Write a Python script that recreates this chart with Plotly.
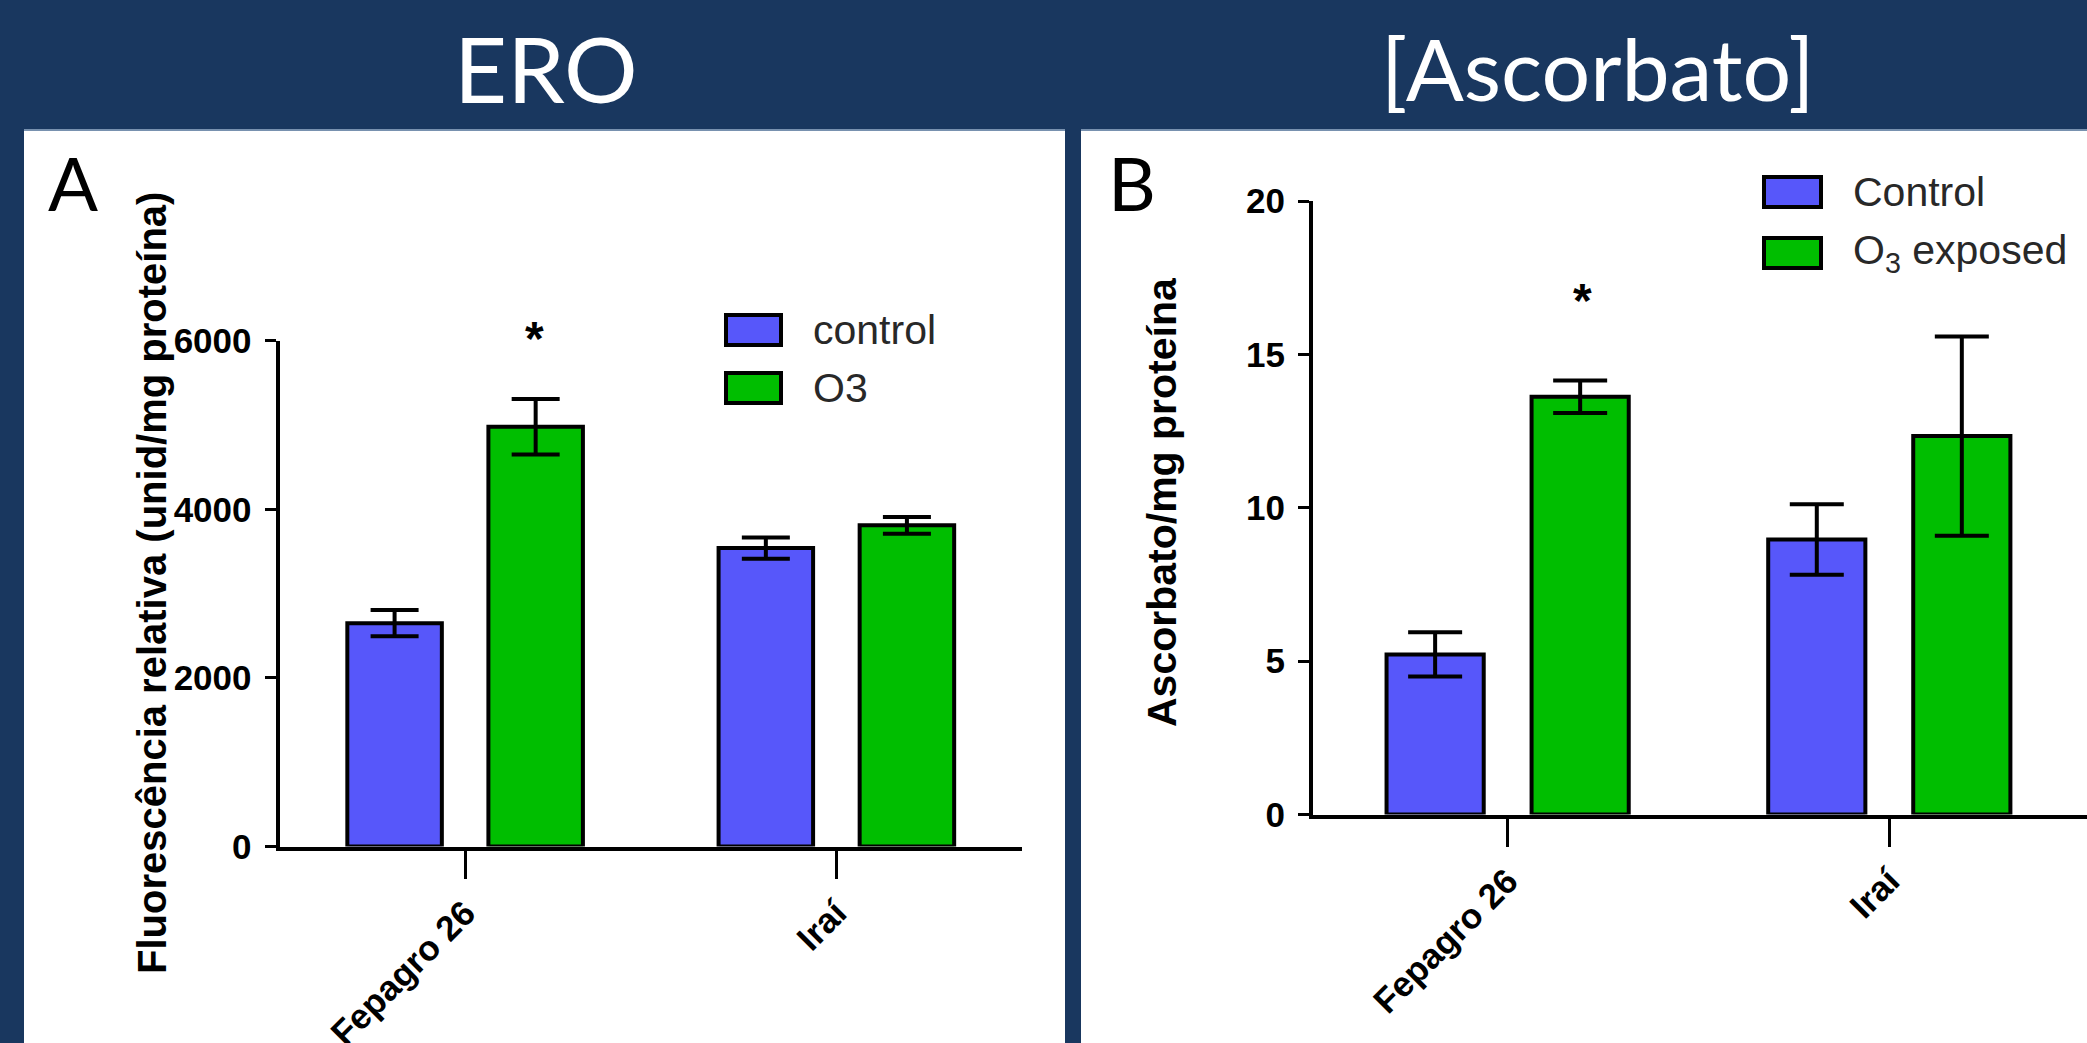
import plotly.graph_objects as go

# ---------------- data ----------------
categories = ["Fepagro 26", "Iraí"]

ero_series = ["control", "O3"]
ero_control = [2650, 3540]
ero_control_err = [155, 125]
ero_o3 = [4980, 3810]
ero_o3_err = [330, 100]
ero_sig = ["*", ""]
ero_yticks = [0, 2000, 4000, 6000]

asc_series = ["Control", "O<sub>3</sub> exposed"]
asc_control = [5.22, 8.97]
asc_control_err = [0.72, 1.15]
asc_o3 = [13.62, 12.34]
asc_o3_err = [0.53, 3.25]
asc_sig = ["*", ""]
asc_yticks = [0, 5, 10, 15, 20]

panel_titles = ["ERO", "[Ascorbato]"]
panel_letters = ["A", "B"]
ytitles = ["Fluorescência relativa (unid/mg proteína)", "Ascorbato/mg proteína"]

# ---------------- style ----------------
W, H = 2087, 1043
NAVY = "rgb(25,55,95)"
BLUE = "rgb(87,87,250)"
GREEN = "rgb(0,190,0)"
ARIAL = "Liberation Sans, Arial, sans-serif"
CALIBRI = "Lato, Carlito, sans-serif"


def px_x(v):
    return v / W


def px_y(v):
    return 1 - v / H


fig = go.Figure()

# left chart (ERO)
for name, vals, errs, col in [
    (ero_series[0], ero_control, ero_control_err, BLUE),
    (ero_series[1], ero_o3, ero_o3_err, GREEN),
]:
    fig.add_trace(go.Bar(
        x=categories, y=vals, name=name, xaxis="x", yaxis="y",
        marker=dict(color=col, line=dict(color="black", width=4)),
        error_y=dict(type="data", array=errs, visible=True,
                     color="black", thickness=4, width=24),
        showlegend=False, offsetgroup=name,
    ))

# right chart (Ascorbato)
for name, vals, errs, col in [
    (asc_series[0], asc_control, asc_control_err, BLUE),
    (asc_series[1], asc_o3, asc_o3_err, GREEN),
]:
    fig.add_trace(go.Bar(
        x=categories, y=vals, name=name, xaxis="x2", yaxis="y2",
        marker=dict(color=col, line=dict(color="black", width=4)),
        error_y=dict(type="data", array=errs, visible=True,
                     color="black", thickness=4, width=27),
        showlegend=False, offsetgroup="b" + str(len(name)),
    ))

axis_common = dict(
    showline=True, linecolor="black", linewidth=4, showgrid=False,
    zeroline=False, ticks="outside", tickcolor="black", tickwidth=3,
    tickfont=dict(family=ARIAL, size=35, color="black", weight="bold"),
)

fig.update_layout(
    width=W, height=H,
    margin=dict(l=0, r=0, t=0, b=0, autoexpand=False),
    paper_bgcolor=NAVY, plot_bgcolor="white",
    barmode="group",
    bargap=0.24, bargroupgap=0.33,
    xaxis=dict(domain=[px_x(279.5), px_x(1022)], range=[-0.5, 1.5],
               anchor="y", type="category", ticklen=28, tickangle=-45,
               **axis_common),
    yaxis=dict(domain=[px_y(846.6), px_y(340.7)], range=[0, 6000],
               anchor="x", tickvals=ero_yticks, ticklen=11,
               ticklabelstandoff=6, **axis_common),
    xaxis2=dict(domain=[px_x(1313), 1.0], range=[-0.51, 1.518],
                anchor="y2", type="category", ticklen=28, tickangle=-45,
                **axis_common),
    yaxis2=dict(domain=[px_y(814.5), px_y(201.2)], range=[0, 20],
                anchor="x2", tickvals=asc_yticks, ticklen=11,
                ticklabelstandoff=6, **axis_common),
)
fig.update_xaxes(tickfont=dict(size=35))

shapes = []
# white panels
shapes.append(dict(type="rect", xref="paper", yref="paper", layer="below",
                   x0=px_x(24), x1=px_x(1065), y0=0, y1=px_y(130),
                   fillcolor="white", line=dict(width=0)))
shapes.append(dict(type="rect", xref="paper", yref="paper", layer="below",
                   x0=px_x(1081), x1=1.0, y0=0, y1=px_y(130),
                   fillcolor="white", line=dict(width=0)))
for x0, x1 in [(24, 1065), (1081, W)]:
    shapes.append(dict(type="line", xref="paper", yref="paper",
                       x0=px_x(x0), x1=px_x(x1), y0=px_y(130), y1=px_y(130),
                       line=dict(color="rgb(120,145,175)", width=2)))

annotations = []
# panel titles
for txt, cx, fs in zip(panel_titles, [546, 1598], [92, 86]):
    annotations.append(dict(text=txt, x=px_x(cx), y=px_y(68), xref="paper",
                            yref="paper", showarrow=False, xanchor="center",
                            yanchor="middle",
                            font=dict(family=CALIBRI, size=fs, color="white")))
# panel letters
for txt, lx in zip(panel_letters, [46, 1106]):
    annotations.append(dict(text=txt, x=px_x(lx), y=px_y(183), xref="paper",
                            yref="paper", showarrow=False, xanchor="left",
                            yanchor="middle",
                            font=dict(family=CALIBRI, size=74, color="black")))
# y axis titles
for txt, cx, cy, fs in zip(ytitles, [152, 1162], [583, 502], [40, 41]):
    annotations.append(dict(text=txt, x=px_x(cx), y=px_y(cy), xref="paper",
                            yref="paper", showarrow=False, textangle=-90,
                            xanchor="center", yanchor="middle",
                            font=dict(family=ARIAL, size=fs, color="black",
                                      weight="bold")))

# legends (drawn swatches + labels)
legend_specs = [
    (ero_series, 726, 781, [330, 388], 811),
    (asc_series, 1764, 1821, [192, 253], 1851),
]
for names, sx0, sx1, cys, tx in legend_specs:
    for name, col, cy in zip(names, [BLUE, GREEN], cys):
        shapes.append(dict(type="rect", xref="paper", yref="paper",
                           x0=px_x(sx0), x1=px_x(sx1),
                           y0=px_y(cy + 15), y1=px_y(cy - 15),
                           fillcolor=col, line=dict(color="black", width=4)))
        annotations.append(dict(text=name, x=px_x(tx), y=px_y(cy),
                                xref="paper", yref="paper", showarrow=False,
                                xanchor="left", yanchor="middle",
                                font=dict(family=ARIAL, size=41,
                                          color="rgb(40,40,40)")))

# significance asterisks (above O3 error bars)
for sig, vals, errs, xa, ya, off, shift in [
    (ero_sig, ero_o3, ero_o3_err, "x", "y", 0.186, 60),
    (asc_sig, asc_o3, asc_o3_err, "x2", "y2", 0.196, 80),
]:
    for i, s in enumerate(sig):
        if s:
            annotations.append(dict(text=s, x=i + off, y=vals[i] + errs[i],
                                    xref=xa, yref=ya, showarrow=False,
                                    yshift=shift, xanchor="center",
                                    yanchor="middle",
                                    font=dict(family=ARIAL, size=48,
                                              color="black", weight="bold")))

fig.update_layout(shapes=shapes, annotations=annotations)
fig.write_html(
    "out.html",
    config={"displayModeBar": False},
    post_script="document.body.style.margin='0';"
                "document.body.style.background='" + NAVY + "';",
)
